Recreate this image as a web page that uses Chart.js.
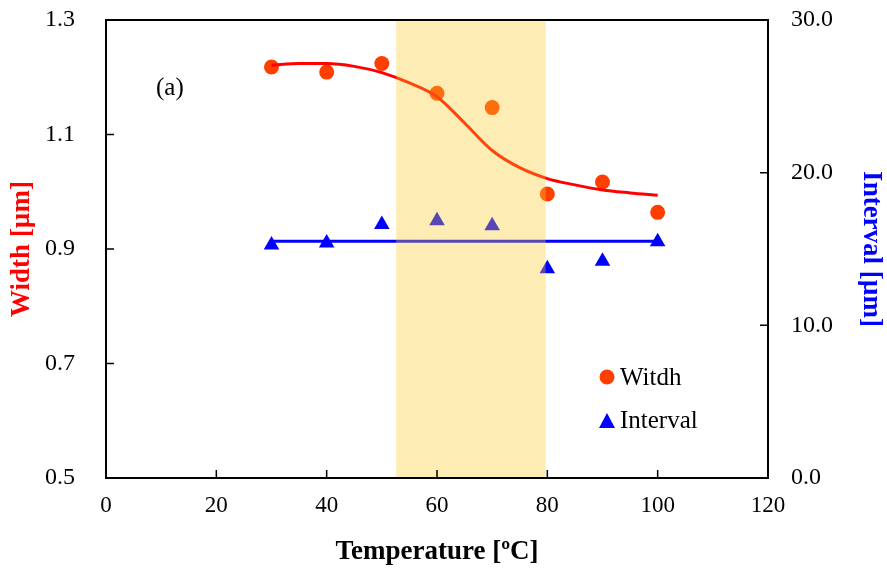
<!DOCTYPE html>
<html>
<head>
<meta charset="utf-8">
<script src="https://cdn.jsdelivr.net/npm/chart.js@4.4.0/dist/chart.umd.min.js"></script>
<style>
  html, body { margin: 0; padding: 0; background: #fff; }
  #wrap { width: 887px; height: 572px; }
</style>
</head>
<body>
<div id="wrap"><canvas id="grafica"></canvas></div>
<script>
// Dades llegides de la figura
const temperatures = [30, 40, 50, 60, 70, 80, 90, 100];
const amplada = [1.218, 1.209, 1.224, 1.172, 1.147, 0.996, 1.017, 0.964];
const interval = [15.26, 15.4, 16.6, 16.85, 16.52, 13.7, 14.2, 15.47];

// Corba d'ajust (vermella)
const corbaT = [30, 35, 40, 45, 50, 55, 60, 65, 70, 75, 80, 85, 90, 95, 100];
const corbaAmplada = [1.221, 1.224, 1.224, 1.219, 1.208, 1.19, 1.166, 1.12, 1.072, 1.042, 1.023, 1.012, 1.003, 0.998, 0.994];

// Línia de l'interval (blava)
const liniaT = [30, 100];
const liniaInterval = [15.5, 15.5];

// Franja groga
const franja = [52.6, 79.7];

const xTicks = [0, 20, 40, 60, 80, 100, 120];
const yTicksEsq = [0.5, 0.7, 0.9, 1.1, 1.3];
const yTicksDre = [0, 10, 20, 30];

const FONT = "'Liberation Serif', 'Times New Roman', serif";
const colorPunt = 'rgb(255, 62, 0)';

const toXY = (xs, ys) => xs.map((x, i) => ({ x: x, y: ys[i] }));

const pluginDecor = {
    id: 'decor',
    afterDatasetsDraw(chart) {
        const { ctx, chartArea: a, scales } = chart;
        const x = scales.x, yl = scales.y, yr = scales.y2;

        // franja groga per sobre de les dades
        ctx.save();
        ctx.fillStyle = 'rgba(250, 200, 40, 0.35)';
        const x0 = x.getPixelForValue(franja[0]);
        const x1 = x.getPixelForValue(franja[1]);
        ctx.fillRect(x0, a.top, x1 - x0, a.bottom - a.top);

        // marc
        ctx.strokeStyle = '#000';
        ctx.lineWidth = 2;
        ctx.strokeRect(a.left, a.top, a.right - a.left, a.bottom - a.top);

        // marques cap a dins
        ctx.lineWidth = 1.5;
        ctx.beginPath();
        xTicks.forEach(v => {
            const px = x.getPixelForValue(v);
            ctx.moveTo(px, a.bottom);
            ctx.lineTo(px, a.bottom - 8);
        });
        yTicksEsq.forEach(v => {
            const py = yl.getPixelForValue(v);
            ctx.moveTo(a.left, py);
            ctx.lineTo(a.left + 8, py);
        });
        yTicksDre.forEach(v => {
            const py = yr.getPixelForValue(v);
            ctx.moveTo(a.right, py);
            ctx.lineTo(a.right - 8, py);
        });
        ctx.stroke();

        // etiqueta (a)
        ctx.fillStyle = '#000';
        ctx.font = '25px ' + FONT;
        ctx.textBaseline = 'middle';
        ctx.textAlign = 'left';
        ctx.fillText('(a)', 156, 88);

        // llegenda
        ctx.fillStyle = colorPunt;
        ctx.beginPath();
        ctx.arc(607, 377, 7.5, 0, Math.PI * 2);
        ctx.fill();
        ctx.fillStyle = '#0000ff';
        ctx.beginPath();
        ctx.moveTo(607, 413);
        ctx.lineTo(615, 428);
        ctx.lineTo(599, 428);
        ctx.closePath();
        ctx.fill();
        ctx.fillStyle = '#000';
        ctx.fillText('Witdh', 620, 378);
        ctx.fillText('Interval', 620, 421);
        ctx.restore();
    }
};

// marques invisibles per separar les etiquetes de l'eix
const gridOcult = (len) => ({
    display: true,
    drawOnChartArea: false,
    drawTicks: true,
    tickLength: len,
    tickColor: 'rgba(0,0,0,0)',
    color: 'rgba(0,0,0,0)'
});

new Chart(document.getElementById('grafica'), {
    type: 'scatter',
    data: {
        datasets: [
            {
                label: 'Corba',
                data: toXY(corbaT, corbaAmplada),
                showLine: true,
                borderColor: '#ff0000',
                borderWidth: 3,
                pointRadius: 0,
                cubicInterpolationMode: 'monotone',
                yAxisID: 'y'
            },
            {
                label: 'Línia',
                data: toXY(liniaT, liniaInterval),
                showLine: true,
                borderColor: '#0000ff',
                borderWidth: 3,
                pointRadius: 0,
                yAxisID: 'y2'
            },
            {
                label: 'Witdh',
                data: toXY(temperatures, amplada),
                backgroundColor: colorPunt,
                borderWidth: 0,
                pointRadius: 7.5,
                yAxisID: 'y'
            },
            {
                label: 'Interval',
                data: toXY(temperatures, interval),
                pointStyle: 'triangle',
                backgroundColor: '#0000ff',
                borderWidth: 0,
                pointRadius: 9,
                yAxisID: 'y2'
            }
        ]
    },
    options: {
        responsive: true,
        maintainAspectRatio: false,
        animation: false,
        layout: { padding: { top: 20, left: 0, right: 0, bottom: 0 } },
        plugins: { legend: { display: false }, tooltip: { enabled: false } },
        scales: {
            x: {
                type: 'linear',
                min: 0, max: 120,
                afterFit: s => { s.height = 94; },
                afterBuildTicks: s => { s.ticks = xTicks.map(v => ({ value: v })); },
                grid: gridOcult(14),
                border: { display: false },
                ticks: { color: '#000', padding: 0, font: { family: FONT, size: 23 } },
                title: { display: true, text: 'Temperature [ºC]', color: '#000', padding: { top: 4 }, font: { family: FONT, size: 27, weight: 'bold' } }
            },
            y: {
                position: 'left',
                min: 0.5, max: 1.3,
                afterFit: s => { s.width = 106; },
                afterBuildTicks: s => { s.ticks = yTicksEsq.map(v => ({ value: v })); },
                grid: gridOcult(31),
                border: { display: false },
                ticks: { color: '#000', padding: 0, callback: v => v.toFixed(1), font: { family: FONT, size: 24 } },
                title: { display: true, text: 'Width [µm]', color: '#ff0000', padding: { top: 6, bottom: 0 }, font: { family: FONT, size: 27, weight: 'bold' } }
            },
            y2: {
                position: 'right',
                min: 0, max: 30,
                afterFit: s => { s.width = 119; },
                afterBuildTicks: s => { s.ticks = yTicksDre.map(v => ({ value: v })); },
                grid: gridOcult(23),
                border: { display: false },
                ticks: { color: '#000', padding: 0, callback: v => v.toFixed(1), font: { family: FONT, size: 24 } },
                title: { display: true, text: 'Interval [µm]', color: '#0000ff', padding: { top: 0, bottom: 4 }, font: { family: FONT, size: 27, weight: 'bold' } }
            }
        }
    },
    plugins: [pluginDecor]
});
</script>
</body>
</html>
